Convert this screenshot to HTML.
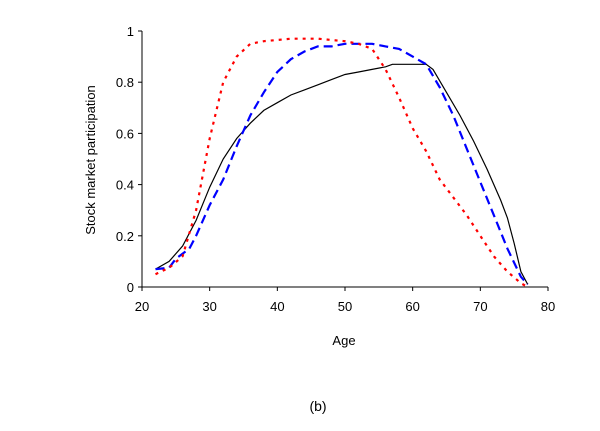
<!DOCTYPE html>
<html><head><meta charset="utf-8"><style>
body{margin:0;background:#fff;}
svg text{font-family:"Liberation Sans",sans-serif;fill:#000;}
</style></head><body>
<svg width="600" height="426" xmlns="http://www.w3.org/2000/svg">
<g id="axes"></g>
<g id="series"></g>
<text x="344" y="345" font-size="13" text-anchor="middle">Age</text>
<text transform="translate(95,160) rotate(-90)" font-size="13" text-anchor="middle">Stock market participation</text>
<text x="318" y="411" font-size="14" text-anchor="middle">(b)</text>
</svg>
<script>
const xTicks=[20,30,40,50,60,70,80];
const yTicks=[0,0.2,0.4,0.6,0.8,1];
const yTickLabels=["0","0.2","0.4","0.6","0.8","1"];
const blackAges=[22,24,26,28,30,32,34,36,38,40,42,44,46,48,50,52,54,56,57,62,63,65,67,69,71,73,74,75,76,77];
const blackVals=[.07,.10,.16,.26,.39,.50,.58,.64,.69,.72,.75,.77,.79,.81,.83,.84,.85,.86,.87,.87,.85,.76,.67,.57,.46,.34,.27,.17,.06,.01];
const blueAges=[22,24,25,27,28,30,32,34,36,38,40,42,44,46,48,50,52,54,56,58,60,62,64,66,68,70,72,74,76,77];
const blueVals=[.07,.075,.11,.15,.20,.32,.42,.55,.67,.76,.84,.89,.92,.94,.94,.95,.95,.95,.94,.93,.90,.87,.78,.67,.54,.41,.28,.15,.04,.01];
const redAges=[22,24,26,28,30,32,34,36,38,40,42,44,46,48,50,52,54,56,58,60,62,64,66,68,70,72,74,76,77];
const redVals=[.05,.075,.12,.30,.58,.80,.90,.95,.96,.965,.97,.97,.97,.965,.96,.95,.93,.85,.74,.62,.53,.42,.35,.28,.20,.12,.06,.015,0];
const X=v=>142+(v-20)*(548-142)/60;
const Y=v=>287-v*(287-31);
const NS="http://www.w3.org/2000/svg";
const ax=document.getElementById('axes');
function mk(t,a,p){const e=document.createElementNS(NS,t);for(const k in a)e.setAttribute(k,a[k]);p.appendChild(e);return e;}
let l=mk('line',{x1:X(20),y1:Y(0),x2:X(80),y2:Y(0),stroke:'#000','stroke-width':1},ax);


l=mk('line',{x1:X(20),y1:Y(0),x2:X(20),y2:Y(1),stroke:'#000','stroke-width':1},ax);


xTicks.forEach(v=>{mk('line',{x1:X(v),y1:Y(0),x2:X(v),y2:Y(0)+4,stroke:'#000'},ax);
 const t=mk('text',{x:X(v),y:Y(0)+24,'font-size':13,'text-anchor':'middle'},ax);t.textContent=v;
 
 });
yTicks.forEach((v,i)=>{mk('line',{x1:X(20)-4,y1:Y(v),x2:X(20),y2:Y(v),stroke:'#000'},ax);
 const t=mk('text',{x:X(20)-8,y:Y(v)+5,'font-size':13,'text-anchor':'end'},ax);t.textContent=yTickLabels[i];
 
 });
const sg=document.getElementById('series');
function line(ages,vals,col,dash,w,name){const d=ages.map((a,i)=>(i?'L':'M')+X(a).toFixed(1)+','+Y(vals[i]).toFixed(1)).join('');
 const p=mk('path',{d:d,fill:'none',stroke:col,'stroke-width':w,'stroke-dasharray':dash},sg);
 
 }
line(blackAges,blackVals,'#000','none',1.2,'series-black-solid');
line(blueAges,blueVals,'#0000ff','9 5',2.2,'series-blue-dashed');
line(redAges,redVals,'#ff0000','3 5',2.2,'series-red-dotted');
</script>
</body></html>
